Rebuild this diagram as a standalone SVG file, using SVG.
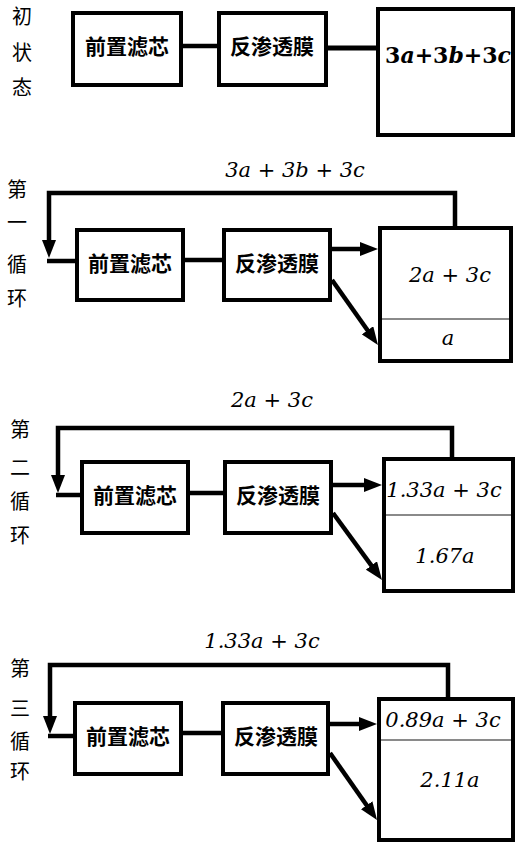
<svg xmlns="http://www.w3.org/2000/svg" width="520" height="847" viewBox="0 0 520 847">
<style>
.box{fill:#fff;stroke:#000;stroke-width:4}
.ln{fill:none;stroke:#000;stroke-width:4.5}
.div{stroke:#8a8a8a;stroke-width:2}
.bt{font-family:"Noto Sans CJK SC","Noto Sans",sans-serif;font-weight:700;font-size:21px;text-anchor:middle}
.lab{font-family:"Noto Sans CJK SC",sans-serif;font-size:20px;text-anchor:middle}
.m{font-family:"DejaVu Serif","Liberation Serif",serif;font-style:italic;font-size:21px;text-anchor:middle}
.mb{font-family:"DejaVu Serif","Liberation Serif",serif;font-weight:700;font-size:22px;text-anchor:middle}
.up{font-style:normal}
</style>
<defs>
<marker id="ah" markerUnits="userSpaceOnUse" markerWidth="18" markerHeight="14" refX="7" refY="7" orient="auto">
<path d="M0,0 L18,7 L0,14 z" fill="#000"/>
</marker>
</defs>

<g id="labels">
<text class="lab" x="22" y="24">初</text>
<text class="lab" x="22" y="60">状</text>
<text class="lab" x="22" y="95">态</text>
<text class="lab" x="17" y="197">第</text>
<text class="lab" x="17" y="230">一</text>
<text class="lab" x="17" y="272">循</text>
<text class="lab" x="17" y="306">环</text>
<text class="lab" x="20" y="437">第</text>
<text class="lab" x="20" y="475">二</text>
<text class="lab" x="20" y="509">循</text>
<text class="lab" x="20" y="543">环</text>
<text class="lab" x="20" y="676">第</text>
<text class="lab" x="20" y="716">三</text>
<text class="lab" x="20" y="749">循</text>
<text class="lab" x="20" y="779">环</text>
<text class="m" x="295" y="177">3a <tspan class="up">+</tspan> 3b <tspan class="up">+</tspan> 3c</text>
<text class="m" x="272" y="407">2a <tspan class="up">+</tspan> 3c</text>
<text class="m" x="262" y="648">1.33a <tspan class="up">+</tspan> 3c</text>
</g>

<g id="connectors">
<path class="ln" d="M183,46 H217"/>
<path class="ln" d="M328,48 H376" style="stroke-width:5"/>
<path class="ln" d="M455,226 V193 H49 V247" marker-end="url(#ah)"/>
<path class="ln" d="M47,261 H77"/>
<path class="ln" d="M185,260 H224"/>
<path class="ln" d="M332,249 H367" marker-end="url(#ah)"/>
<path class="ln" d="M332,280 L371.6,336" marker-end="url(#ah)"/>
<path class="ln" d="M452,457 V428 H58 V482" marker-end="url(#ah)"/>
<path class="ln" d="M56,495 H82"/>
<path class="ln" d="M190,493 H225"/>
<path class="ln" d="M333,485 H371" marker-end="url(#ah)"/>
<path class="ln" d="M333,513 L375.5,571.1" marker-end="url(#ah)"/>
<path class="ln" d="M448,697 V665 H50 V723" marker-end="url(#ah)"/>
<path class="ln" d="M48,736 H75"/>
<path class="ln" d="M183,733 H223"/>
<path class="ln" d="M330,724 H366" marker-end="url(#ah)"/>
<path class="ln" d="M330,753 L370.7,811" marker-end="url(#ah)"/>
</g>

<g id="s1-prefilter"><rect class="box" x="73" y="13" width="108" height="72"/><text class="bt" x="127" y="54">前置滤芯</text></g>
<g id="s1-ro"><rect class="box" x="219" y="13" width="107" height="72"/><text class="bt" x="272" y="54">反渗透膜</text></g>
<g id="s1-tank"><rect class="box" x="378" y="9" width="135" height="126"/><text class="mb" x="448" y="63">3<tspan font-style="italic">a</tspan>+3<tspan font-style="italic">b</tspan>+3<tspan font-style="italic">c</tspan></text></g>

<g id="s2-prefilter"><rect class="box" x="77" y="230" width="106" height="70"/><text class="bt" x="130" y="271">前置滤芯</text></g>
<g id="s2-ro"><rect class="box" x="224" y="230" width="106" height="70"/><text class="bt" x="277" y="271">反渗透膜</text></g>
<g id="s2-tank"><rect class="box" x="380" y="228" width="131" height="133"/><line class="div" x1="382" y1="319" x2="509" y2="319"/><text class="m" x="450" y="282">2a <tspan class="up">+</tspan> 3c</text><text class="m" x="448" y="345">a</text></g>

<g id="s3-prefilter"><rect class="box" x="82" y="462" width="106" height="71"/><text class="bt" x="135" y="503">前置滤芯</text></g>
<g id="s3-ro"><rect class="box" x="225" y="462" width="106" height="71"/><text class="bt" x="278" y="503">反渗透膜</text></g>
<g id="s3-tank"><rect class="box" x="384" y="459" width="129" height="132"/><line class="div" x1="386" y1="515" x2="511" y2="515"/><text class="m" x="444" y="497">1.33a <tspan class="up">+</tspan> 3c</text><text class="m" x="445" y="563">1.67a</text></g>

<g id="s4-prefilter"><rect class="box" x="75" y="703" width="106" height="71"/><text class="bt" x="128" y="744">前置滤芯</text></g>
<g id="s4-ro"><rect class="box" x="223" y="703" width="105" height="71"/><text class="bt" x="276" y="744">反渗透膜</text></g>
<g id="s4-tank"><rect class="box" x="379" y="699" width="134" height="141"/><line class="div" x1="381" y1="740" x2="511" y2="740"/><text class="m" x="443" y="727">0.89a <tspan class="up">+</tspan> 3c</text><text class="m" x="450" y="787">2.11a</text></g>
</svg>
